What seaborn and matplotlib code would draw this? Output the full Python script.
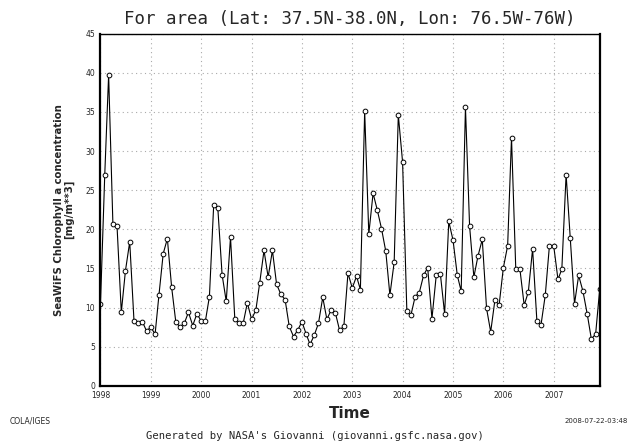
import numpy as np
import pandas as pd
import matplotlib
matplotlib.use("Agg")
import matplotlib.pyplot as plt
import matplotlib.dates as mdates
import seaborn as sns

#---------------------------- DATA (monthly, Jan 1998 - Dec 2007) ----------------------------
chl_1998 = [10.5, 27.0, 39.7, 20.7, 20.4, 9.4, 14.7, 18.4, 8.3, 8.0, 8.2, 7.0]
chl_1999 = [7.5, 6.6, 11.6, 16.9, 18.8, 12.6, 8.2, 7.5, 8.0, 9.4, 7.7, 9.2]
chl_2000 = [8.3, 8.3, 11.4, 23.1, 22.7, 14.2, 10.8, 19.0, 8.6, 8.0, 8.0, 10.6]
chl_2001 = [8.5, 9.7, 13.2, 17.3, 13.9, 17.3, 13.0, 11.7, 11.0, 7.6, 6.3, 7.1]
chl_2002 = [8.2, 6.6, 5.3, 6.5, 8.0, 11.3, 8.5, 9.7, 9.3, 7.1, 7.6, 14.4]
chl_2003 = [12.5, 14.0, 12.3, 35.1, 19.4, 24.6, 22.5, 20.1, 17.2, 11.6, 15.8, 34.6]
chl_2004 = [28.6, 9.5, 9.0, 11.4, 11.9, 14.1, 15.1, 8.6, 14.1, 14.3, 9.2, 21.0]
chl_2005 = [18.6, 14.1, 12.1, 35.6, 20.4, 13.9, 16.6, 18.7, 9.9, 6.9, 11.0, 10.3]
chl_2006 = [15.1, 17.9, 31.7, 14.9, 14.9, 10.3, 12.0, 17.5, 8.3, 7.8, 11.6, 17.9]
chl_2007 = [17.9, 13.6, 14.9, 27.0, 18.9, 10.5, 14.1, 12.1, 9.2, 6.0, 6.6, 12.4]

chl = (chl_1998 + chl_1999 + chl_2000 + chl_2001 + chl_2002 +
       chl_2003 + chl_2004 + chl_2005 + chl_2006 + chl_2007)
months = pd.date_range("1998-01-01", periods=len(chl), freq="MS")
y_ticks = list(range(0, 50, 5))

df = pd.DataFrame({"Time": months, "Chl": chl})

#---------------------------- PLOT ----------------------------
sns.set_style("white")
plt.rcParams['font.family'] = ['DejaVu Sans']

fig = plt.figure(figsize=(6.36, 4.42), dpi=100)
ax = fig.add_axes([0.158, 0.127, 0.785, 0.797])

sns.lineplot(data=df, x="Time", y="Chl", ax=ax, color="black", linewidth=0.8,
             marker="o", markersize=3.4, markerfacecolor="white",
             markeredgecolor="black", markeredgewidth=0.7)

ax.set_xlim(months[0], months[-1])
ax.set_ylim(0, 45)
ax.set_yticks(y_ticks)
ax.xaxis.set_major_locator(mdates.YearLocator())
ax.xaxis.set_major_formatter(mdates.DateFormatter("%Y"))
ax.tick_params(axis="both", labelsize=5.5, length=3, width=0.6, direction="out", pad=1)
ax.grid(True, color="#aaaaaa", linestyle=(0, (1, 3)), linewidth=0.8)

for side, sp in ax.spines.items():
    sp.set_color("black")
    sp.set_linewidth(1.6)
ax.spines["top"].set_linewidth(1.0)
ax.spines["top"].set_linestyle((0, (3, 1)))

ax.set_xlabel("Time", fontsize=11, fontweight="bold", labelpad=4)
ax.set_ylabel("SeaWiFS Chlorophyll a concentration\n[mg/m**3]", fontsize=7.3,
              fontweight="bold", labelpad=8, linespacing=1.0)
ax.set_title("For area (Lat: 37.5N-38.0N, Lon: 76.5W-76W)", fontsize=12.5, pad=7,
             family=["DejaVu Sans Mono"])

fig.text(0.015, 0.047, "COLA/IGES", fontsize=5.5, ha="left", va="center")
fig.text(0.988, 0.047, "2008-07-22-03:48", fontsize=5.0, ha="right", va="center")
fig.text(0.495, 0.014, "Generated by NASA's Giovanni (giovanni.gsfc.nasa.gov)",
         fontsize=7.6, ha="center", va="center", family=["DejaVu Sans Mono"])

fig.savefig("out.png", dpi=100)
